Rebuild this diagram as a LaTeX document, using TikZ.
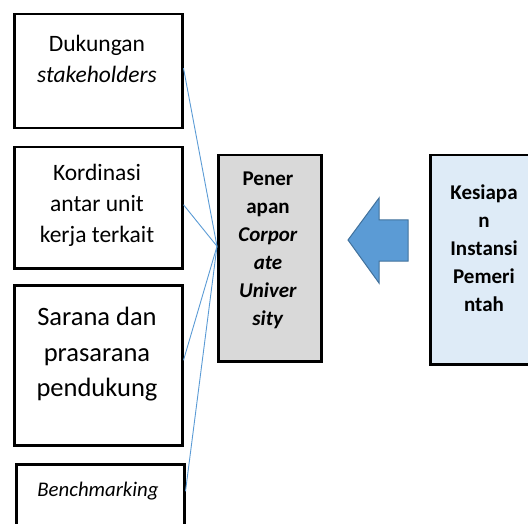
\documentclass[tikz,border=0pt]{standalone}
\usepackage{fontspec}
\setmainfont{Carlito}
\definecolor{biru}{HTML}{5B9BD5}
\definecolor{birutua}{HTML}{41719C}
\definecolor{birumuda}{HTML}{DEEBF7}
\definecolor{abu}{HTML}{D9D9D9}
\newcommand{\hurufsedang}{\fontsize{23.5}{31}\selectfont}
\newcommand{\hurufbesar}{\fontsize{26.5}{35.5}\selectfont}
\newcommand{\hurufkecil}{\fontsize{20.8}{26}\selectfont}
\newcommand{\hurufjudul}{\fontsize{21}{28}\selectfont\bfseries}
\begin{document}
\begin{tikzpicture}[x=1pt,y=-1pt,
  kotak/.style={draw,line width=2.5pt,anchor=north west,inner sep=0pt},
  teks/.style={anchor=north,inner sep=0pt,align=center},
  garis/.style={biru,line width=0.9pt}]
\useasboundingbox (0,0) rectangle (528,524);
% kotak kiri
\node[kotak,minimum width=168pt,minimum height=114pt] (dukungan) at (13,13) {};
\node[kotak,minimum width=168pt,minimum height=121pt] (kordinasi) at (13,146) {};
\node[kotak,minimum width=168pt,minimum height=160pt] (sarana) at (13,284) {};
\node[kotak,minimum width=168pt,minimum height=70pt] (bench) at (15,463) {};
\node[teks,font=\hurufsedang] (tdukungan) at (97,35) {Dukungan\\\textit{stakeholders}};
\node[teks,font=\hurufsedang] (tkordinasi) at (97,164) {Kordinasi\\antar unit\\kerja terkait};
\node[teks,font=\hurufbesar] (tsarana) at (97,307) {Sarana dan\\prasarana\\pendukung};
\node[teks,font=\hurufkecil] (tbench) at (98,482) {\itshape Benchmarking};
% tengah dan kanan
\node[kotak,fill=abu,minimum width=103pt,minimum height=206pt] (penerapan) at (217,154) {};
\node[teks,font=\hurufjudul] (tpenerapan) at (268,172) {Pener\\apan\\\textit{Corpor}\\\textit{ate}\\\textit{Univer}\\\textit{sity}};
\node[kotak,fill=birumuda,minimum width=110pt,minimum height=209pt] (kesiapan) at (429,154) {};
\node[teks,font=\hurufjudul] (tkesiapan) at (484,185) {Kesiapa\\n\\Instansi\\Pemeri\\ntah};
% panah
\draw[birutua,fill=biru,line width=1pt] (348,240) -- (379,198) -- (379,220) -- (408,220)
  -- (408,261) -- (379,261) -- (379,283) -- cycle;
% garis
\coordinate (hub) at ([yshift=12pt]penerapan.west);
\draw[garis] ([yshift=3pt]dukungan.east) -- (hub);
\draw[garis] ([yshift=3pt]kordinasi.east) -- (hub);
\draw[garis] ([yshift=5pt]sarana.east) -- (hub);
\draw[garis] ([yshift=8pt]bench.east) -- (hub);
\end{tikzpicture}
\end{document}
